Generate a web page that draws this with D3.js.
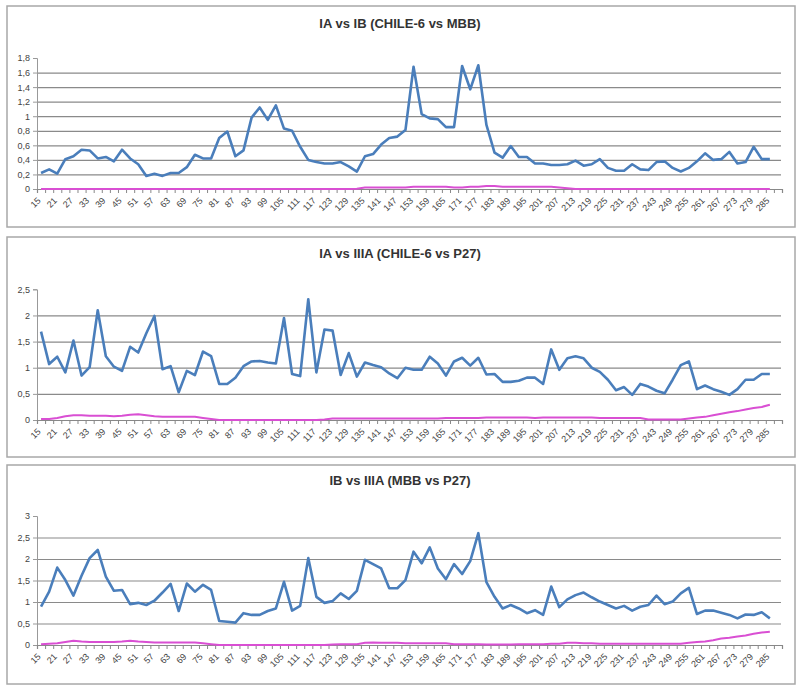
<!DOCTYPE html>
<html>
<head>
<meta charset="utf-8">
<script src="https://cdn.jsdelivr.net/npm/d3@7"></script>
<style>
  body { margin: 0; background: #fff; }
  svg { display: block; font-family: "Liberation Sans", Arial, sans-serif; }
</style>
</head>
<body>
<div id="chart"></div>
<script>
// categories (x axis), one every 3 units; last one has no data
var categories = [15,18,21,24,27,30,33,36,39,42,45,48,51,54,57,60,63,66,69,72,75,78,81,84,87,90,93,96,99,102,
  105,108,111,114,117,120,123,126,129,132,135,138,141,144,147,150,153,156,159,162,165,168,171,174,177,180,183,186,189,192,
  195,198,201,204,207,210,213,216,219,222,225,228,231,234,237,240,243,246,249,252,255,258,261,264,267,270,273,276,279,282,
  285,288];

// labels shown on the x axis
var xTickLabels = [15,21,27,33,39,45,51,57,63,69,75,81,87,93,99,105,111,117,123,129,135,141,147,153,159,165,171,177,183,189,
  195,201,207,213,219,225,231,237,243,249,255,261,267,273,279,285];

var titles = ["IA vs IB (CHILE-6 vs MBB)", "IA vs IIIA (CHILE-6 vs P27)", "IB vs IIIA (MBB vs P27)"];

var yTicks1 = [0,0.2,0.4,0.6,0.8,1,1.2,1.4,1.6,1.8];
var yTicks2 = [0,0.5,1,1.5,2,2.5];
var yTicks3 = [0,0.5,1,1.5,2,2.5,3];

// IA vs IB
var blue1 = [0.22,0.27,0.21,0.41,0.45,0.54,0.53,0.42,0.44,0.38,0.54,0.42,0.34,0.18,
  0.21,0.18,0.22,0.22,0.30,0.47,0.42,0.42,0.70,0.79,0.45,0.53,0.98,1.12,0.95,1.15,0.83,0.80,0.58,0.40,0.37,0.35,0.35,0.37,0.31,0.24,
  0.45,
  0.48,0.61,0.70,0.72,0.81,1.68,1.03,0.97,0.96,0.85,0.85,1.69,1.37,1.70,0.88,0.50,0.43,0.59,0.44,0.44,0.35,0.35,0.33,0.33,0.34,0.39,0.32,0.34,0.41,0.29,0.25,
  0.25,0.34,0.27,0.26,0.37,0.38,0.29,0.24,0.29,0.38,0.49,0.40,0.41,0.51,0.35,0.37,0.58,0.41,0.41];
var pink1 = [0,0,0,0,0,0,0,0,0,0,0,0,0,0,0,0,0,0,0,0,0,0,0,0,0,0,0,0,0,0,0,0,0,0,0,0,0,0,0,
  0.005,0.02,0.02,0.02,0.02,0.02,0.02,0.03,0.03,0.03,0.03,0.03,0.02,0.02,0.03,0.03,0.04,0.04,0.03,
  0.03,0.03,0.03,0.03,0.03,0.03,0.02,0.01,
  0,0,0,0,0,0,0,0,0,0,0,0,0,0,0,0,0,0,0,0,0,0,0,0,0];

// IA vs IIIA
var blue2 = [1.69,1.07,1.21,0.91,1.52,0.85,1.01,2.10,1.22,1.02,0.94,1.40,1.29,1.66,1.99,0.97,1.03,0.53,0.94,0.86,
  1.31,1.22,0.69,0.69,0.81,1.03,1.12,1.13,1.10,1.08,1.95,0.88,0.84,2.31,0.91,1.73,1.71,0.86,1.28,0.83,1.10,1.05,1.01,0.89,0.80,
  1.00,0.96,0.96,1.21,1.08,0.85,1.12,1.19,1.04,1.19,0.87,0.88,0.73,0.73,0.75,0.81,0.81,0.69,1.35,0.96,1.18,1.22,1.18,1.00,0.92,
  0.77,0.57,0.63,0.48,0.69,0.64,0.56,0.51,0.77,1.05,1.12,0.59,0.66,0.59,0.54,0.48,0.59,0.77,0.77,0.88,0.88];
var pink2 = [0.02,0.02,0.04,0.07,0.09,0.09,0.08,0.08,0.08,0.07,0.08,0.10,0.11,0.09,0.07,0.06,0.06,0.06,0.06,0.06,0.04,0.02,
  0,0,0,0,0,0,0,0,0,0,0,0,0,
  0.01,0.03,0.03,0.03,0.03,0.03,0.03,0.03,0.03,0.03,
  0.03,0.03,0.03,0.03,0.03,0.04,0.04,0.04,0.04,0.04,0.05,0.05,0.05,0.05,0.05,0.05,0.04,
  0.05,0.05,0.05,0.05,0.05,0.05,0.05,0.04,0.04,0.04,0.04,0.04,0.04,0.01,0.01,0.01,0.01,
  0.01,0.03,0.05,0.06,0.09,0.12,0.15,0.17,0.20,0.23,0.25,0.29];

// IB vs IIIA
var blue3 = [0.89,1.24,1.80,1.51,1.15,1.61,2.02,2.21,1.59,1.26,1.28,0.95,0.98,0.93,1.03,1.22,1.42,0.79,1.43,1.24,
  1.40,1.28,0.56,0.54,0.52,0.74,0.70,0.70,0.79,0.85,1.47,0.80,0.91,2.02,1.12,0.98,1.02,1.20,1.07,1.26,1.98,1.88,1.78,1.32,1.32,
  1.51,2.17,1.90,2.27,1.78,1.53,1.88,1.65,1.95,2.60,1.46,1.12,0.85,0.93,0.85,0.74,0.81,0.70,1.36,0.88,1.06,1.16,1.22,1.11,1.01,
  0.93,0.85,0.91,0.80,0.89,0.93,1.15,0.95,1.01,1.20,1.33,0.72,0.80,0.80,0.75,0.70,0.62,0.71,0.70,0.76,0.62];
var pink3 = [0.02,0.03,0.04,0.07,0.10,0.08,0.07,0.07,0.07,0.07,0.08,0.10,0.08,0.07,0.06,0.06,0.06,0.06,0.06,0.06,0.04,0.02,
  0,0,0,0,0,0,0,0,0,0,0,0,0,0,
  0.01,0.02,0.02,0.02,0.05,0.06,0.05,0.05,0.05,
  0.04,0.04,0.04,0.04,0.04,0.04,0.02,0.02,0.02,0.02,0.01,0.01,0.01,0.01,0.02,0.02,0.02,0.02,0.03,0.03,0.05,0.05,0.04,0.04,
  0.03,0.03,0.03,0.03,0.03,0.03,0.03,0.03,0.03,0.03,0.03,
  0.05,0.07,0.08,0.11,0.15,0.17,0.20,0.22,0.26,0.29,0.31];

var svgWidth = 800;
var svgHeight = 689;

var svg = d3.select("#chart")
  .append("svg")
  .attr("width", svgWidth)
  .attr("height", svgHeight);

// panel geometry (box, title line, plot area)
var panels = [
  { box: [7, 6, 795, 227], titleY: 23, yTop: 58, yZero: 189, ticks: yTicks1, blue: blue1, pink: pink1, title: titles[0] },
  { box: [7, 237, 795, 457], titleY: 253, yTop: 289.3, yZero: 420, ticks: yTicks2, blue: blue2, pink: pink2, title: titles[1] },
  { box: [7, 465, 795, 684], titleY: 480, yTop: 516, yZero: 645, ticks: yTicks3, blue: blue3, pink: pink3, title: titles[2] }
];

var plotLeft = 37;
var plotRight = 782;

var fmt = function(d) { return String(d).replace(".", ","); };

panels.forEach(function(p) {
  var g = svg.append("g");

  // outer frame
  g.append("rect")
    .attr("x", p.box[0]).attr("y", p.box[1])
    .attr("width", p.box[2] - p.box[0]).attr("height", p.box[3] - p.box[1])
    .attr("fill", "#fff")
    .attr("stroke", "#a8a8a8")
    .attr("stroke-width", 1.5);

  g.append("text")
    .attr("x", 400).attr("y", p.titleY)
    .attr("text-anchor", "middle")
    .attr("dominant-baseline", "central")
    .attr("font-size", "13px")
    .attr("font-weight", "bold")
    .attr("fill", "#333")
    .text(p.title);

  var x = d3.scaleBand()
    .domain(categories)
    .range([plotLeft, plotRight]);

  var xEdge = d3.scaleLinear()
    .domain([0, categories.length])
    .range([plotLeft, plotRight]);

  var yMax = p.ticks[p.ticks.length - 1];
  var y = d3.scaleLinear()
    .domain([0, yMax])
    .range([p.yZero, p.yTop]);

  // gridlines (no line at the top value)
  g.append("g")
    .attr("transform", `translate(${plotLeft},0)`)
    .call(d3.axisLeft(y).tickValues(p.ticks.slice(1, -1)).tickSize(-(plotRight - plotLeft - 1)).tickFormat(""))
    .call(function(a) {
      a.select(".domain").remove();
      a.selectAll("line").attr("stroke", "#8a8a8a").attr("stroke-width", 1.2);
    });

  // y axis
  g.append("g")
    .attr("transform", `translate(${plotLeft},0)`)
    .call(d3.axisLeft(y).tickValues(p.ticks).tickSize(4).tickPadding(3).tickFormat(fmt))
    .call(function(a) {
      a.select(".domain").attr("stroke", "#999");
      a.selectAll("line").attr("stroke", "#999");
      a.selectAll("text").attr("font-size", "9px").attr("fill", "#444")
        .attr("font-family", "Liberation Sans, Arial, sans-serif");
    });

  // x axis line + tick marks between categories
  g.append("g")
    .attr("transform", `translate(0,${p.yZero})`)
    .call(d3.axisBottom(xEdge).tickValues(d3.range(categories.length + 1)).tickSize(4).tickFormat(""))
    .call(function(a) {
      a.select(".domain").attr("stroke", "#888").attr("stroke-width", 1.2);
      a.selectAll("line").attr("stroke", "#888");
    });

  // x labels
  g.append("g")
    .attr("transform", `translate(0,${p.yZero})`)
    .call(d3.axisBottom(x).tickValues(xTickLabels).tickSize(0).tickPadding(0))
    .call(function(a) {
      a.select(".domain").remove();
      a.selectAll("text")
        .attr("font-size", "9px")
        .attr("fill", "#444")
        .attr("font-family", "Liberation Sans, Arial, sans-serif")
        .attr("text-anchor", "end")
        .attr("dy", "0.35em")
        .attr("y", 0)
        .attr("transform", "translate(-2,10) rotate(-45)");
    });

  var line = d3.line()
    .x(function(d, i) { return x(categories[i]) + x.bandwidth() / 2; })
    .y(function(d) { return y(d); });

  g.append("path")
    .datum(p.pink)
    .attr("fill", "none")
    .attr("stroke", "#d94fd3")
    .attr("stroke-width", 2)
    .attr("stroke-linejoin", "round")
    .attr("d", line);

  g.append("path")
    .datum(p.blue)
    .attr("fill", "none")
    .attr("stroke", "#4a7ebb")
    .attr("stroke-width", 2.6)
    .attr("stroke-linejoin", "round")
    .attr("d", line);
});
</script>
</body>
</html>
